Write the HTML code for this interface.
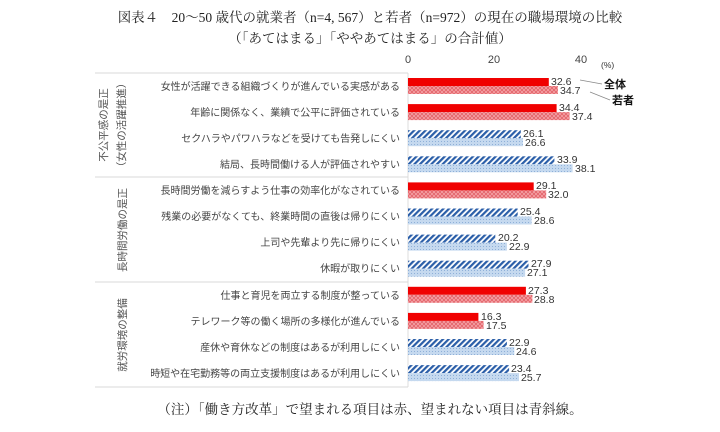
<!DOCTYPE html>
<html><head><meta charset="utf-8"><style>
body{margin:0;background:#fff;}
text{font-family:"Liberation Sans","Noto Sans CJK JP",sans-serif;}
.t{font-family:"Liberation Serif","Noto Serif CJK SC",serif;}
</style></head><body>
<svg width="720" height="427" viewBox="0 0 720 427" xmlns="http://www.w3.org/2000/svg">
<defs>
<pattern id="rx" width="4" height="4" patternUnits="userSpaceOnUse"><rect width="4" height="4" fill="#f4a0a4"/><path d="M0 0L4 4M4 0L0 4" stroke="#e05a60" stroke-width="0.7"/></pattern>
<pattern id="bd" width="4" height="4" patternUnits="userSpaceOnUse" patternTransform="rotate(45)"><rect width="4" height="4" fill="#fff"/><rect width="2.2" height="4" fill="#2a5ea8"/></pattern>
<pattern id="bl" width="3" height="3" patternUnits="userSpaceOnUse"><rect width="3" height="3" fill="#c5d9ef"/><rect width="1" height="1" fill="#8fb0d8"/></pattern>
</defs>
<text class="t" x="370" y="22" font-size="13.5" text-anchor="middle" fill="#222">図表４　20～50 歳代の就業者（n=4, 567）と若者（n=972）の現在の職場環境の比較</text>
<text class="t" x="370" y="43" font-size="13.5" text-anchor="middle" fill="#222">（「あてはまる」「ややあてはまる」の合計値）</text>
<text class="t" x="370" y="414" font-size="13.5" text-anchor="middle" fill="#222">（注）「働き方改革」で望まれる項目は赤、望まれない項目は青斜線。</text>
<g font-size="11" fill="#444" text-anchor="middle">
<text x="408" y="63">0</text><text x="494" y="63">20</text><text x="581" y="63">40</text>
</g>
<text x="601" y="68" font-size="8.5" fill="#333">(%)</text>
<line x1="408" y1="73" x2="408" y2="387" stroke="#ddd"/>
<g stroke="#d8d8d8" stroke-width="1">
<line x1="95" y1="73" x2="408" y2="73"/><line x1="95" y1="177" x2="408" y2="177"/><line x1="95" y1="282" x2="408" y2="282"/><line x1="95" y1="387" x2="408" y2="387"/>
</g>
<g font-size="10.5" fill="#555">
<text transform="translate(107,125) rotate(-90)" text-anchor="middle">不公平感の是正</text>
<text transform="translate(125,125) rotate(-90)" text-anchor="middle">（女性の活躍推進）</text>
<text transform="translate(126,230) rotate(-90)" text-anchor="middle">長時間労働の是正</text>
<text transform="translate(126,335) rotate(-90)" text-anchor="middle">就労環境の整備</text>
</g>
<g font-size="10" fill="#444" text-anchor="end">
<text x="400" y="90">女性が活躍できる組織づくりが進んでいる実感がある</text>
<text x="400" y="116">年齢に関係なく、業績で公平に評価されている</text>
<text x="400" y="142">セクハラやパワハラなどを受けても告発しにくい</text>
<text x="400" y="168">結局、長時間働ける人が評価されやすい</text>
<text x="400" y="194">長時間労働を減らすよう仕事の効率化がなされている</text>
<text x="400" y="220">残業の必要がなくても、終業時間の直後は帰りにくい</text>
<text x="400" y="246">上司や先輩より先に帰りにくい</text>
<text x="400" y="272">休暇が取りにくい</text>
<text x="400" y="299">仕事と育児を両立する制度が整っている</text>
<text x="400" y="325">テレワーク等の働く場所の多様化が進んでいる</text>
<text x="400" y="351">産休や育休などの制度はあるが利用しにくい</text>
<text x="400" y="377">時短や在宅勤務等の両立支援制度はあるが利用しにくい</text>
</g>
<g>
<rect x="408" y="78" width="140.8" height="8" fill="#f00000"/><rect x="408" y="86" width="149.9" height="8" fill="url(#rx)"/>
<rect x="408" y="104.1" width="148.6" height="8" fill="#f00000"/><rect x="408" y="112.1" width="161.6" height="8" fill="url(#rx)"/>
<rect x="408" y="130.2" width="112.8" height="8" fill="url(#bd)"/><rect x="408" y="138.2" width="114.9" height="8" fill="url(#bl)"/>
<rect x="408" y="156.3" width="146.4" height="8" fill="url(#bd)"/><rect x="408" y="164.3" width="164.6" height="8" fill="url(#bl)"/>
<rect x="408" y="182.4" width="125.7" height="8" fill="#f00000"/><rect x="408" y="190.4" width="138.2" height="8" fill="url(#rx)"/>
<rect x="408" y="208.5" width="109.7" height="8" fill="url(#bd)"/><rect x="408" y="216.5" width="123.6" height="8" fill="url(#bl)"/>
<rect x="408" y="234.6" width="87.3" height="8" fill="url(#bd)"/><rect x="408" y="242.6" width="98.9" height="8" fill="url(#bl)"/>
<rect x="408" y="260.7" width="120.5" height="8" fill="url(#bd)"/><rect x="408" y="268.7" width="117.1" height="8" fill="url(#bl)"/>
<rect x="408" y="286.8" width="117.9" height="8" fill="#f00000"/><rect x="408" y="294.8" width="124.4" height="8" fill="url(#rx)"/>
<rect x="408" y="312.9" width="70.4" height="8" fill="#f00000"/><rect x="408" y="320.9" width="75.6" height="8" fill="url(#rx)"/>
<rect x="408" y="339" width="98.9" height="8" fill="url(#bd)"/><rect x="408" y="347" width="106.3" height="8" fill="url(#bl)"/>
<rect x="408" y="365.1" width="101.1" height="8" fill="url(#bd)"/><rect x="408" y="373.1" width="111" height="8" fill="url(#bl)"/>
</g>
<g font-size="10.5" fill="#333">
<text x="551" y="85">32.6</text><text x="560" y="94">34.7</text>
<text x="559" y="111">34.4</text><text x="572" y="120">37.4</text>
<text x="523" y="137">26.1</text><text x="525" y="146">26.6</text>
<text x="557" y="163">33.9</text><text x="575" y="172">38.1</text>
<text x="536" y="189">29.1</text><text x="548" y="198">32.0</text>
<text x="520" y="215">25.4</text><text x="534" y="224">28.6</text>
<text x="498" y="241">20.2</text><text x="509" y="250">22.9</text>
<text x="531" y="267">27.9</text><text x="527" y="276">27.1</text>
<text x="528" y="294">27.3</text><text x="534" y="303">28.8</text>
<text x="481" y="320">16.3</text><text x="486" y="329">17.5</text>
<text x="509" y="346">22.9</text><text x="516" y="355">24.6</text>
<text x="511" y="372">23.4</text><text x="521" y="381">25.7</text>
</g>
<line x1="580" y1="80" x2="602" y2="84" stroke="#888" stroke-width="0.7"/>
<line x1="590" y1="92" x2="610" y2="100" stroke="#888" stroke-width="0.7"/>
<text x="604" y="88" font-size="11" font-weight="bold" fill="#111">全体</text>
<text x="612" y="104" font-size="11" font-weight="bold" fill="#111">若者</text>
</svg>
</body></html>
